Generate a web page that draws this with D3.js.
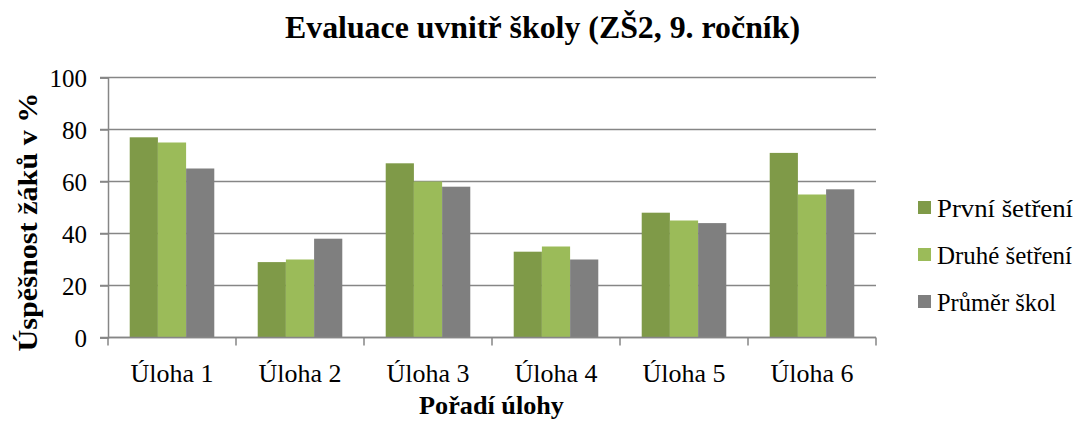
<!DOCTYPE html>
<html><head><meta charset="utf-8">
<script src="https://cdn.jsdelivr.net/npm/d3@7"></script>
<style>body{margin:0;background:#fff}svg{display:block}</style>
</head><body>
<script>
const categories = ["Úloha 1","Úloha 2","Úloha 3","Úloha 4","Úloha 5","Úloha 6"];
const seriesNames = ["První šetření","Druhé šetření","Průměr škol"];
const prvni = [77,29,67,33,48,71];
const druhe = [75,30,60,35,45,55];
const prumer = [65,38,58,30,44,57];
const yTicks = [0,20,40,60,80,100];
const colors = ["#7F9A48","#9BBB59","#7F7F7F"];
const title = "Evaluace uvnitř školy (ZŠ2, 9. ročník)";
const yTitle = "Úspěšnost žáků v %";
const xTitle = "Pořadí úlohy";

const FONT = "Liberation Serif";
const W=1083,H=421;
const svg=d3.select("body").append("svg").attr("width",W).attr("height",H);
const x0=108,x1=876,yB=337.5,yT=77.5;
const x=d3.scaleBand().domain(categories).range([x0,x1]).paddingInner(0).paddingOuter(0);
const y=d3.scaleLinear().domain([0,100]).range([yB,yT]);
const inner=d3.scaleBand().domain(seriesNames).range([0,x.bandwidth()]).paddingOuter(0.77).paddingInner(0);
const series=[prvni,druhe,prumer];

function txt(sel){ return sel.style("font-family",FONT).attr("fill","#000"); }

// gridlines
svg.append("g").selectAll("line").data(yTicks).join("line")
 .attr("x1",x0-8).attr("x2",x1).attr("y1",d=>y(d)).attr("y2",d=>y(d))
 .attr("stroke","#868686").attr("stroke-width",1.5);

// bars
series.forEach((vals,si)=>{
 svg.append("g").selectAll("rect").data(vals).join("rect")
  .attr("x",(d,i)=>x(categories[i])+inner(seriesNames[si]))
  .attr("width",inner.bandwidth())
  .attr("y",d=>y(d)).attr("height",d=>y(0)-y(d))
  .attr("fill",colors[si]);
});

// y axis
const yAxis=svg.append("g").attr("transform",`translate(${x0},0)`).call(d3.axisLeft(y).tickValues(yTicks).tickSize(8).tickPadding(13));
yAxis.attr("font-family",null);
yAxis.select(".domain").attr("stroke","#868686").attr("stroke-width",1.5);
yAxis.selectAll(".tick line").attr("stroke","#868686").attr("stroke-width",1.5);
txt(yAxis.selectAll("text")).attr("font-size",25).attr("dy","0.34em");

// x axis with ticks at band boundaries
const bounds=categories.map(c=>x(c)).concat([x1]);
svg.append("g").selectAll("line").data(bounds).join("line")
 .attr("x1",d=>d).attr("x2",d=>d).attr("y1",yB).attr("y2",yB+8)
 .attr("stroke","#868686").attr("stroke-width",1.5);
svg.append("line").attr("x1",x0).attr("x2",x1).attr("y1",yB).attr("y2",yB).attr("stroke","#868686").attr("stroke-width",1.5);
txt(svg.append("g").selectAll("text").data(categories).join("text"))
 .attr("x",d=>x(d)+x.bandwidth()/2).attr("y",382)
 .attr("text-anchor","middle").attr("font-size",26)
 .attr("textLength",83).attr("lengthAdjust","spacingAndGlyphs").text(d=>d);

// titles
txt(svg.append("text")).attr("x",542.5).attr("y",38).attr("text-anchor","middle")
 .attr("font-size",31).attr("font-weight","bold")
 .attr("textLength",515).attr("lengthAdjust","spacingAndGlyphs").text(title);
txt(svg.append("text")).attr("x",491.5).attr("y",414).attr("text-anchor","middle")
 .attr("font-size",25).attr("font-weight","bold")
 .attr("textLength",145).attr("lengthAdjust","spacingAndGlyphs").text(xTitle);
txt(svg.append("text")).attr("transform","translate(37,222) rotate(-90)").attr("text-anchor","middle")
 .attr("font-size",27).attr("font-weight","bold")
 .attr("textLength",259).attr("lengthAdjust","spacingAndGlyphs").text(yTitle);

// legend
const lg=svg.append("g");
const legW=[136,135,119];
seriesNames.forEach((n,i)=>{
 const cy=207.5+i*47;
 lg.append("rect").attr("x",918).attr("y",cy-6.5).attr("width",13).attr("height",13).attr("fill",colors[i]);
 txt(lg.append("text")).attr("x",937).attr("y",cy+9).attr("font-size",26)
  .attr("textLength",legW[i]).attr("lengthAdjust","spacingAndGlyphs").text(n);
});
</script>
</body></html>
